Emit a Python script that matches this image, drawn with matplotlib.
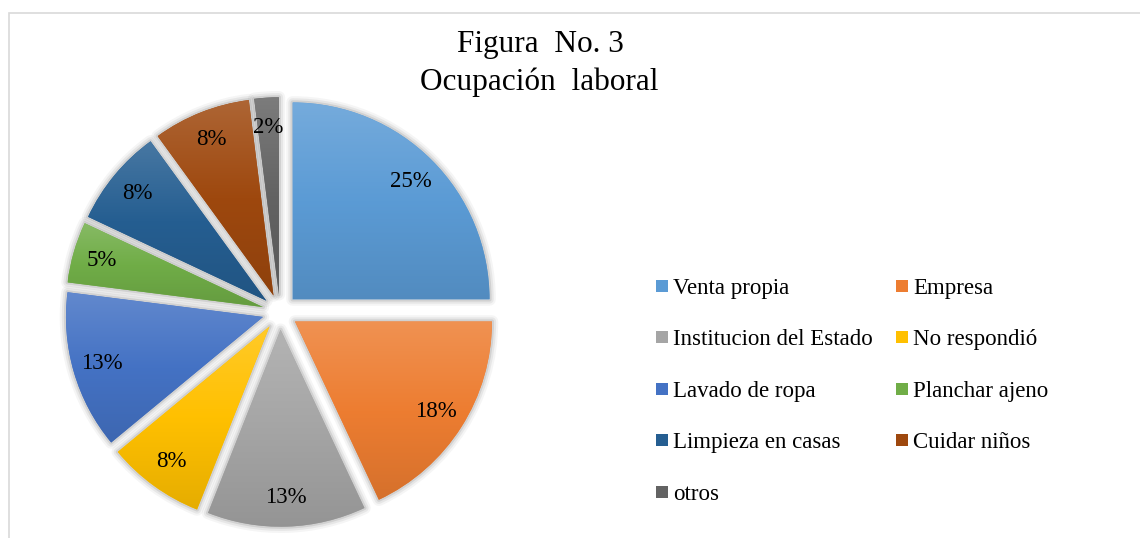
import numpy as np
import matplotlib
matplotlib.use("Agg")
import matplotlib.pyplot as plt
from matplotlib.colors import to_rgb, LinearSegmentedColormap
from matplotlib.patches import Rectangle

plt.rcParams["font.family"] = ["Liberation Serif", "DejaVu Serif"]

# datos
labels = ["Venta propia", "Empresa", "Institucion del Estado", "No respondió",
          "Lavado de ropa", "Planchar ajeno", "Limpieza en casas",
          "Cuidar niños", "otros"]
values = [25, 18, 13, 8, 13, 5, 8, 8, 2]
colors = ["#5B9BD5", "#ED7D31", "#A5A5A5", "#FFC000", "#4472C4",
          "#70AD47", "#255E91", "#9E480E", "#636363"]

W, H = 1140, 538
fig = plt.figure(figsize=(W / 100, H / 100), dpi=100)
ax = fig.add_axes([0, 0, 1, 1])

cx, cy, R = 280, H - 312, 197
expl = [0.09 * R] * len(values)  # explode va en unidades de datos

# sombras suaves
for lw, a in [(9, 0.07), (6, 0.11), (3, 0.18)]:
    ax.pie(values, radius=R, center=(cx, cy), startangle=90, counterclock=False,
           explode=expl, colors=["none"] * len(values),
           wedgeprops=dict(edgecolor=(0.45, 0.45, 0.45, a), linewidth=lw,
                           joinstyle="round"))

wedges, texts, autotexts = ax.pie(
    values, radius=R, center=(cx, cy), startangle=90, counterclock=False,
    explode=expl, colors=colors,
    autopct=lambda p: f"{p:.0f}%", pctdistance=0.85,
    textprops=dict(fontsize=16.5, color="black"),
    wedgeprops=dict(edgecolor="none"))

# degradado vertical en cada porción
grad = np.linspace(0, 1, 256).reshape(-1, 1)
for w, c in zip(wedges, colors):
    base = np.array(to_rgb(c))
    light = base + (1 - base) * 0.16
    dark = base * 0.9
    cmap = LinearSegmentedColormap.from_list("g", [dark, base, light])
    ext = w.get_path().get_extents(w.get_patch_transform())
    im = ax.imshow(grad, cmap=cmap, origin="lower", aspect="auto",
                   extent=[ext.x0, ext.x1, ext.y0, ext.y1], zorder=w.get_zorder())
    im.set_clip_path(w)
for t in autotexts:
    t.set_zorder(5)

ax.set_xlim(0, W)
ax.set_ylim(0, H)
ax.set_aspect("auto")
ax.axis("off")

# marco
fig.patches.append(Rectangle((8.5 / W, -0.1), 2, 1.1 - 13.5 / H, transform=fig.transFigure,
                             fill=False, edgecolor="#D9D9D9", linewidth=1.2))

# título
fig.text(540 / W, 1 - 52 / H, "Figura  No. 3", ha="center", va="baseline", fontsize=22.5)
fig.text(539 / W, 1 - 90 / H, "Ocupación  laboral", ha="center", va="baseline", fontsize=22.5)

# leyenda
col_x = [656, 896]
row_y = [286, 337, 389, 440, 492]
for i, (lab, c) in enumerate(zip(labels, colors)):
    x = col_x[i % 2]
    y = row_y[i // 2]
    fig.patches.append(Rectangle((x / W, 1 - (y + 6) / H), 12 / W, 12 / H,
                                 transform=fig.transFigure, facecolor=c,
                                 edgecolor="none"))
    fig.text((x + 17) / W, 1 - y / H, lab, ha="left", va="center_baseline",
             fontsize=16.5)

fig.savefig("out.png", dpi=100)
